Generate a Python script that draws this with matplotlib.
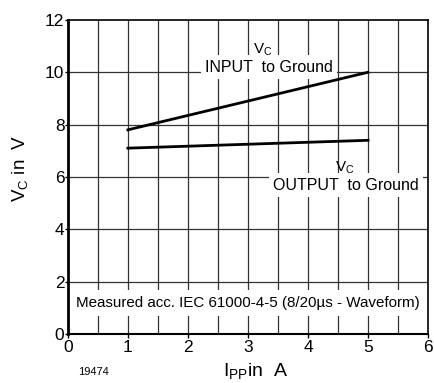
import numpy as np
import matplotlib
matplotlib.use("Agg")
import matplotlib.pyplot as plt

plt.rcParams["font.family"] = ["Liberation Sans", "DejaVu Sans"]
plt.rcParams["mathtext.fontset"] = "custom"
plt.rcParams["mathtext.rm"] = "Liberation Sans"
plt.rcParams["mathtext.it"] = "Liberation Sans"

# data
i_pp = [1, 5]
vc_input = [7.8, 10.0]
vc_output = [7.1, 7.4]
x_ticks = [0, 1, 2, 3, 4, 5, 6]
y_ticks = [0, 2, 4, 6, 8, 10, 12]

fig = plt.figure(figsize=(4.35, 3.83), dpi=100)
ax = fig.add_axes([0.156, 0.128, 0.828, 0.82])
ax.set_xlim(0, 6); ax.set_ylim(0, 12)

for x in np.arange(0.5, 6, 0.5):
    ax.axvline(x, color="#333333", lw=0.9, zorder=1)
for y in y_ticks[1:-1]:
    ax.axhline(y, color="#333333", lw=0.9, zorder=1)

ax.plot(i_pp, vc_input, color="black", lw=2, zorder=3)
ax.plot(i_pp, vc_output, color="black", lw=2, zorder=3)

box = dict(facecolor="white", edgecolor="none", pad=3)
ax.text(3.35, 10.2, "INPUT  to Ground", fontsize=11.5, ha="center", va="center", bbox=box, zorder=2)
ax.text(3.25, 10.85, r"V$_\mathrm{C}$", fontsize=11, ha="center", va="center", zorder=2)
ax.text(4.63, 5.69, "OUTPUT  to Ground", fontsize=11.5, ha="center", va="center", bbox=box, zorder=2)
ax.text(4.62, 6.34, r"V$_\mathrm{C}$", fontsize=11, ha="center", va="center", zorder=2)
ax.text(3.0, 1.18, "Measured acc. IEC 61000-4-5 (8/20\u00b5s - Waveform)", fontsize=10.9,
        ha="center", va="center", bbox=dict(facecolor="white", edgecolor="none", pad=4), zorder=2)

ax.set_xticks(x_ticks); ax.set_yticks(y_ticks)
ax.tick_params(direction="out", length=3, width=1, labelsize=12.5, pad=1)
ax.tick_params(axis="y", length=2, pad=0.5)
for s in ["top", "right"]:
    ax.spines[s].set_linewidth(1.2)
ax.spines["left"].set_linewidth(2)
ax.spines["bottom"].set_linewidth(1.5)

fig.text(0.587, 0.005, r"I$_\mathrm{PP}$in  A", fontsize=14, ha="center", va="bottom")
fig.text(0.046, 0.561, r"V$_\mathrm{C}$ in  V", fontsize=13.5, ha="center", va="center", rotation=90)
fig.text(0.18, 0.015, "19474", fontsize=8, ha="left", va="bottom")

fig.savefig("out.png", dpi=100)
